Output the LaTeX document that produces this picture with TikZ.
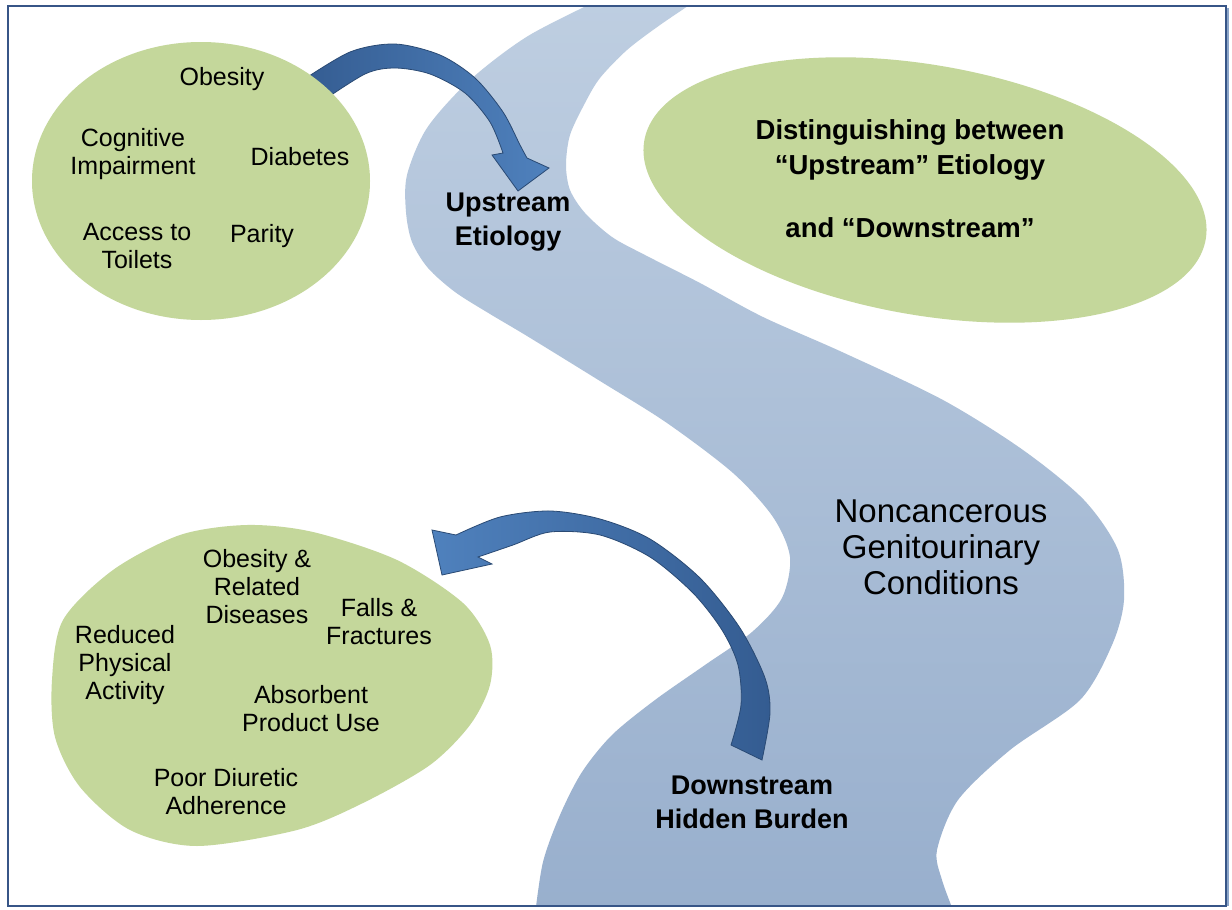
\documentclass[tikz,border=0pt]{standalone}
\usepackage{fontspec}
\setmainfont{Liberation Sans}
\usetikzlibrary{shapes.geometric}
\definecolor{leaf}{RGB}{196,215,155}
\definecolor{rivertop}{RGB}{190,206,225}
\definecolor{riverbot}{RGB}{152,175,205}
\definecolor{arrowdark}{RGB}{52,92,145}
\definecolor{arrowlight}{RGB}{79,129,189}
\definecolor{framecol}{RGB}{55,85,135}
\definecolor{frameshadow}{RGB}{140,165,200}
\begin{document}
\begin{tikzpicture}[x=0.5pt,y=-0.5pt,
  item/.style={align=center, inner sep=0pt, font=\fontsize{12.5}{14}\selectfont},
  stage/.style={align=center, inner sep=0pt, font=\bfseries\fontsize{13.5}{17}\selectfont},
  blob/.style={ellipse, fill=leaf, inner sep=0pt},
  curvearrow/.style={draw=arrowdark!80!black, line width=0.4pt}]

% page and clipping area
\fill[white] (0,0) rectangle (1232,910);
\useasboundingbox (0,0) rectangle (1232,910);

% the river
\begin{scope}
  \clip (8,6) rectangle (1226,906);
  \shade[top color=rivertop, bottom color=riverbot]
    plot[smooth] coordinates {(603,-2) (528,36) (470,80) (427,128) (407,175) (406,212)
      (412,242) (428,268) (455,292) (490,314) (527,336) (600,381) (667,423) (733,473)
      (773,517) (790,557) (782,598) (752,632) (705,665) (655,700) (612,735) (582,772)
      (560,815) (543,862) (535,915)}
    -- plot[smooth] coordinates {(955,915) (942,880) (937,850) (958,800) (1010,750)
      (1080,700) (1112,645) (1124,600) (1118,550) (1084,500) (1023,450) (943,400)
      (842,352) (763,317) (700,283) (645,255) (612,237) (585,213) (570,190) (566,165)
      (570,135) (585,103) (600,78) (627,50) (660,25) (700,-2)}
    -- cycle;
\end{scope}

% arrow from the causes into the river
\shade[curvearrow, left color=arrowdark, right color=arrowlight]
  plot[smooth] coordinates {(300,82) (350,52) (395,44) (440,55) (475,78) (503,112) (520,145) (527,158)}
  -- (549,168) -- (518,191) -- (492,155) -- (503,153)
  -- plot[smooth] coordinates {(503,153) (490,122) (465,93) (430,74) (395,68) (365,74) (318,104)}
  -- cycle;

% green shapes
\node[blob, minimum width=169pt, minimum height=139pt] (causes) at (201,181) {};
\node[blob, minimum width=285pt, minimum height=125pt, rotate=-10] (theme) at (925,190) {};
\fill[leaf] plot[smooth cycle] coordinates {(247,525) (313,532) (397,560) (463,603)
  (490,645) (490,685) (470,725) (430,765) (363,803) (297,830) (197,846) (130,830)
  (80,787) (55,737) (52,680) (63,620) (113,570) (180,535)};

% arrow from the river back to the consequences
\shade[curvearrow, left color=arrowlight, right color=arrowdark]
  (432,530) -- (456,535)
  -- plot[smooth] coordinates {(456,535) (500,517) (550,511) (600,519) (650,539) (700,578)
     (740,628) (765,678) (770,713) (762,760)}
  -- (731,745)
  -- plot[smooth] coordinates {(731,745) (741,705) (738,665) (722,630) (693,593) (650,557)
     (600,535) (550,532) (513,545) (478,557)}
  -- (492,564) -- (442,575) -- cycle;

% upstream factors
\node[item] (obesity) at (222,79) {Obesity};
\node[item] (cognitive) at (133,154) {Cognitive\\Impairment};
\node[item] (diabetes) at (300,157) {Diabetes};
\node[item] (access) at (137,246) {Access to\\Toilets};
\node[item] (parity) at (262,236) {Parity};

% downstream burden
\node[item] (obrel) at (257,587) {Obesity \&\\Related\\Diseases};
\node[item] (falls) at (379,622) {Falls \&\\Fractures};
\node[item] (reduced) at (125,665) {Reduced\\Physical\\Activity};
\node[item] (absorb) at (311,709) {Absorbent\\Product Use};
\node[item] (poor) at (226,792) {Poor Diuretic\\Adherence};

% labels on the river
\node[stage] (up) at (508,222) {Upstream\\Etiology};
\node[stage] (down) at (752,802) {Downstream\\Hidden Burden};
\node[align=center, inner sep=0pt, font=\fontsize{16.5}{18}\selectfont] (gu) at (941,547)
  {Noncancerous\\Genitourinary\\Conditions};
\node[align=center, inner sep=0pt, font=\bfseries\fontsize{13.75}{17.5}\selectfont] (title) at (910,179)
  {Distinguishing between\\“Upstream” Etiology\\[14pt]and “Downstream”};

% frame
\draw[frameshadow, line width=1.5pt] (1227.5,8) -- (1227.5,906);
\draw[framecol, line width=1pt] (8,6) rectangle (1226,906);
\end{tikzpicture}
\end{document}
